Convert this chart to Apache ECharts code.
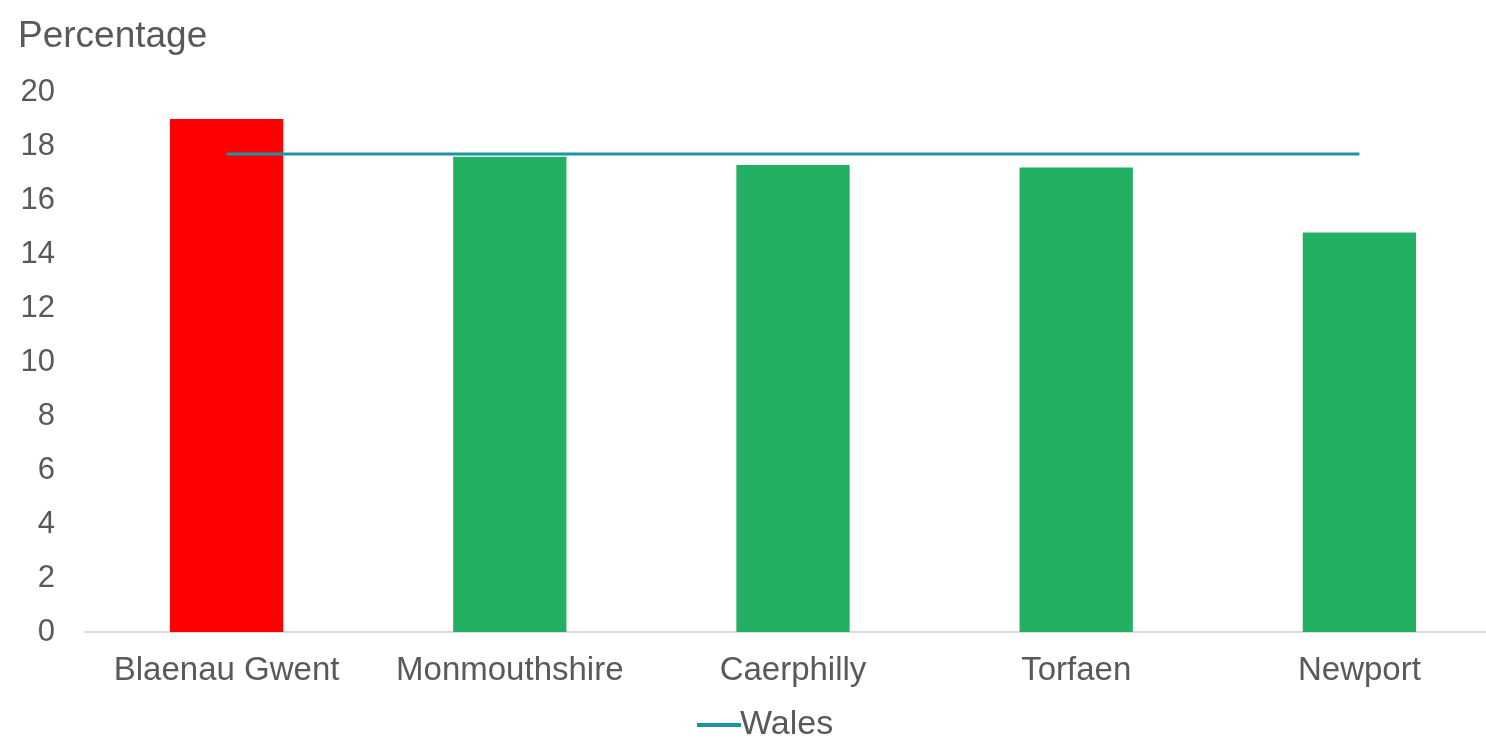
<!DOCTYPE html>
<html>
<head>
<meta charset="utf-8">
<script src="https://cdn.jsdelivr.net/npm/echarts@6/dist/echarts.min.js"></script>
<style>
html,body{margin:0;padding:0;background:#fff;overflow:hidden;}
#c{width:1520px;height:739px;}
</style>
</head>
<body>
<div id="c"></div>
<script>
var categories = ['Blaenau Gwent', 'Monmouthshire', 'Caerphilly', 'Torfaen', 'Newport'];
var areaValues = [19.0, 17.6, 17.3, 17.2, 14.8];
var walesValues = [17.7, 17.7, 17.7, 17.7, 17.7];
var yTicks = [0, 2, 4, 6, 8, 10, 12, 14, 16, 18, 20];

var chart = echarts.init(document.getElementById('c'), null, {renderer: 'canvas'});
var font = 'Liberation Sans, Arial, sans-serif';
chart.setOption({
  animation: false,
  backgroundColor: '#ffffff',
  title: {
    text: 'Percentage',
    left: 13,
    top: 13,
    textStyle: {color: '#595959', fontSize: 37, fontWeight: 'normal', fontFamily: font}
  },
  legend: {
    data: ['Wales'],
    bottom: -8,
    left: 692,
    icon: 'rect',
    itemWidth: 44,
    itemHeight: 4,
    itemGap: 10,
    textStyle: {color: '#595959', fontSize: 34, fontFamily: font, padding: [0, 0, 0, -6]}
  },
  grid: {left: 85, top: 92, width: 1416, height: 540, containLabel: false},
  xAxis: {
    type: 'category',
    data: categories,
    boundaryGap: true,
    axisLine: {lineStyle: {color: '#D9D9D9', width: 2}},
    axisTick: {show: false},
    axisLabel: {color: '#595959', fontSize: 33, fontFamily: font, margin: 22, interval: 0, hideOverlap: false}
  },
  yAxis: {
    type: 'value',
    min: yTicks[0],
    max: yTicks[yTicks.length - 1],
    interval: 2,
    axisLine: {show: false},
    axisTick: {show: false},
    splitLine: {show: false},
    axisLabel: {color: '#595959', fontSize: 31, fontFamily: font, margin: 30}
  },
  series: [
    {
      name: 'Area',
      type: 'bar',
      data: areaValues,
      barWidth: '40%',
      itemStyle: {
        color: function (p) { return p.dataIndex === 0 ? '#FF0000' : '#23B062'; }
      },
      z: 1
    },
    {
      name: 'Wales',
      type: 'line',
      data: walesValues,
      showSymbol: false,
      symbol: 'none',
      lineStyle: {color: '#1D93A6', width: 3},
      itemStyle: {color: '#1D93A6'},
      z: 3
    }
  ]
});
</script>
</body>
</html>
